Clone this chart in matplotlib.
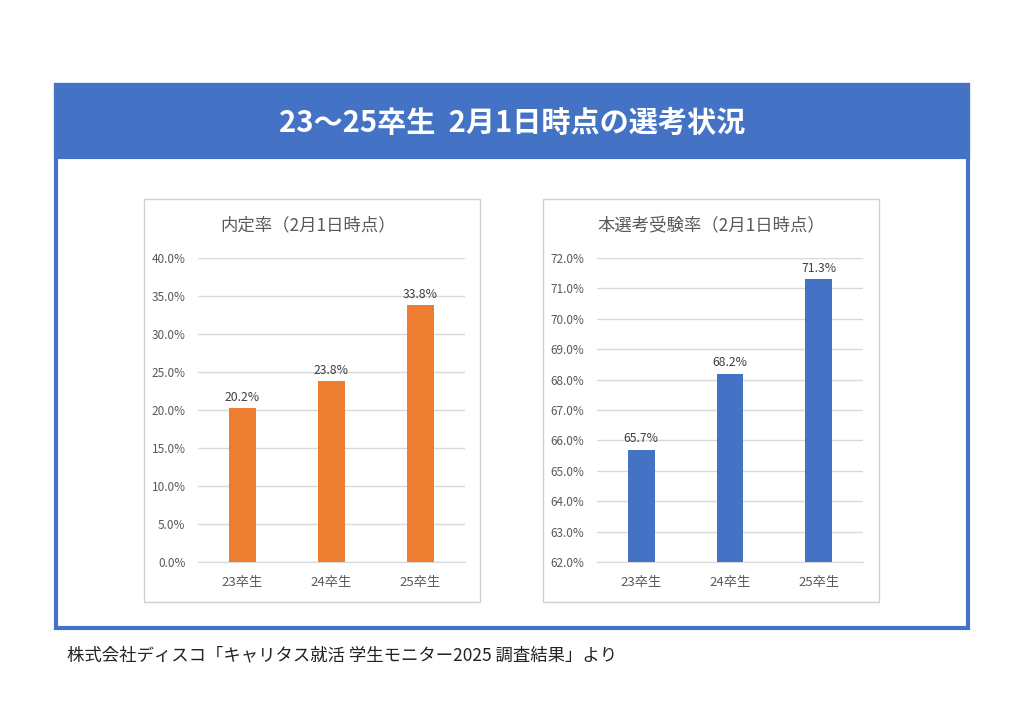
import matplotlib.pyplot as plt
from matplotlib.patches import Rectangle
from matplotlib.ticker import FuncFormatter, MultipleLocator

plt.rcParams['font.family'] = ['Noto Sans CJK JP', 'DejaVu Sans']

categories = ['23卒生', '24卒生', '25卒生']
naitei = [20.2, 23.8, 33.8]        # 内定率
honsenkou = [65.7, 68.2, 71.3]     # 本選考受験率

title_main = '23～25卒生  2月1日時点の選考状況'
title_left = '内定率（2月1日時点）'
title_right = '本選考受験率（2月1日時点）'
source = '株式会社ディスコ「キャリタス就活 学生モニター2025 調査結果」より'

BLUE = '#4472C4'
ORANGE = '#ED7D31'
GRAY_TXT = '#595959'
GRID = '#D9D9D9'

W, H = 1024, 724
fig = plt.figure(figsize=(W / 100, H / 100), dpi=100)

# background layer in pixel coords
bg = fig.add_axes([0, 0, 1, 1])
bg.set_xlim(0, W)
bg.set_ylim(H, 0)
bg.axis('off')

# outer frame + header band
bg.add_patch(Rectangle((56, 85), 912, 543, facecolor='white', edgecolor=BLUE, linewidth=3))
bg.add_patch(Rectangle((56, 85), 912, 72, facecolor=BLUE, edgecolor=BLUE, linewidth=3))
bg.text(512, 123, title_main, color='white', fontsize=21, fontweight='bold',
        ha='center', va='center')

# chart panels
bg.add_patch(Rectangle((144, 199), 336, 403, facecolor='white', edgecolor='#D0D0D0', linewidth=1))
bg.add_patch(Rectangle((543, 199), 336, 403, facecolor='white', edgecolor='#D0D0D0', linewidth=1))
bg.text(308, 225, title_left, color=GRAY_TXT, fontsize=12.5, ha='center', va='center')
bg.text(711, 225, title_right, color=GRAY_TXT, fontsize=12.5, ha='center', va='center')

bg.text(67, 655, source, color='#222222', fontsize=12.5, ha='left', va='center')


def draw_bars(ax, values, color, ymin, ymax, step):
    x = range(len(categories))
    bars = ax.bar(x, [v - ymin for v in values], bottom=ymin, width=0.3, color=color, zorder=3)
    ax.set_xlim(-0.5, 2.5)
    ax.set_ylim(ymin, ymax)
    ax.yaxis.set_major_locator(MultipleLocator(step))
    ax.yaxis.set_major_formatter(FuncFormatter(lambda v, p: f'{v:.1f}%'))
    ax.set_xticks(list(x))
    ax.set_xticklabels(categories)
    ax.grid(axis='y', color=GRID, linewidth=1, zorder=0)
    for s in ['top', 'right', 'left']:
        ax.spines[s].set_visible(False)
    ax.spines['bottom'].set_color(GRID)
    ax.tick_params(axis='both', length=0, colors=GRAY_TXT)
    ax.tick_params(axis='x', pad=10, labelsize=9.5)
    ax.tick_params(axis='y', pad=9, labelsize=8.5)
    for b, v in zip(bars, values):
        ax.annotate(f'{v:.1f}%', (b.get_x() + b.get_width() / 2, v), xytext=(0, 3),
                    textcoords='offset points', ha='center', va='bottom',
                    fontsize=8.8, color='#404040')
    ax.set_facecolor('none')


axL = fig.add_axes([198 / W, (H - 562) / H, (465 - 198) / W, (562 - 258) / H])
draw_bars(axL, naitei, ORANGE, 0, 40, 5)

axR = fig.add_axes([597 / W, (H - 562) / H, (863 - 597) / W, (562 - 258) / H])
draw_bars(axR, honsenkou, BLUE, 62, 72, 1)

plt.savefig('out.png', dpi=100)
